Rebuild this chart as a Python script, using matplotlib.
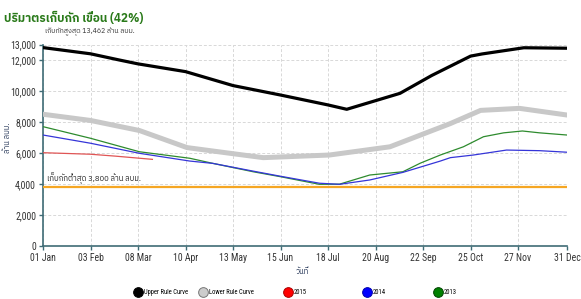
import matplotlib
matplotlib.use('Agg')
import matplotlib.pyplot as plt
from matplotlib import font_manager, ft2font
from matplotlib.lines import Line2D
import numpy as np

# ---- datos (día del año, millones m3) ----
upper_days = [0, 33, 53, 66, 99, 132, 165, 198, 211, 234, 248, 270, 297, 305, 334, 364]
upper_vals = [12800, 12400, 12000, 11750, 11250, 10350, 9740, 9100, 8820, 9460, 9850, 11000, 12250, 12390, 12790, 12760]

lower_days = [0, 33, 67, 100, 130, 153, 199, 241, 283, 304, 331, 364]
lower_vals = [8500, 8100, 7450, 6350, 5980, 5700, 5870, 6400, 7900, 8750, 8880, 8450]

y2013_days = [0, 33, 67, 102, 118, 146, 165, 192, 206, 227, 250, 262, 276, 292, 306, 320, 333, 345, 364]
y2013_vals = [7700, 6950, 6080, 5660, 5330, 4790, 4470, 3980, 3990, 4580, 4790, 5340, 5870, 6400, 7050, 7300, 7420, 7300, 7160]

y2014_days = [0, 33, 67, 102, 118, 146, 165, 192, 206, 227, 250, 276, 283, 299, 322, 345, 364]
y2014_vals = [7160, 6630, 5980, 5480, 5330, 4830, 4500, 4050, 3980, 4260, 4750, 5480, 5700, 5870, 6190, 6150, 6050]

y2015_days = [0, 33, 50, 76]
y2015_vals = [6020, 5920, 5800, 5590]

min_storage = 3800
tick_days = [0, 33, 66, 99, 132, 165, 198, 231, 264, 297, 330, 364]
tick_labels = ['01 Jan', '03 Feb', '08 Mar', '10 Apr', '13 May', '15 Jun', '18 Jul',
               '20 Aug', '22 Sep', '25 Oct', '27 Nov', '31 Dec']
y_ticks = [0, 2000, 4000, 6000, 8000, 10000, 12000, 13000]


def buscar_fuente_thai():
    # busca una fuente instalada que tenga glifos tailandeses
    preferidas = []
    otras = []
    for f in font_manager.fontManager.ttflist:
        try:
            cmap = ft2font.FT2Font(f.fname).get_charmap()
        except Exception:
            continue
        if 0x0E1B in cmap and 0x0E40 in cmap:
            if 'Thai' in f.name:
                preferidas.append(f.name)
            else:
                otras.append(f.name)
    lista = preferidas + otras
    return lista[0] if lista else 'DejaVu Sans'


def fuente_estrecha():
    for nombre in ['Liberation Sans Narrow', 'Roboto Condensed', 'Open Sans Condensed']:
        try:
            font_manager.findfont(nombre, fallback_to_default=False)
            return nombre
        except Exception:
            pass
    return 'Liberation Sans'


thai = buscar_fuente_thai()
estrecha = fuente_estrecha()
plt.rcParams['font.family'] = [thai, 'DejaVu Sans']

W, H = 581, 299
fig = plt.figure(figsize=(W / 100, H / 100), dpi=100)
ax = fig.add_axes([43 / W, 1 - 246 / H, (567 - 43) / W, (246 - 44.5) / H])

ax.plot(upper_days, upper_vals, color='black', lw=2.3, solid_capstyle='round', zorder=5)
ax.plot(lower_days, lower_vals, color='#c8c8c8', lw=3.6, solid_capstyle='round', zorder=4)
ax.plot(y2013_days, y2013_vals, color='#2e8b2e', lw=0.9, zorder=6)
ax.plot(y2014_days, y2014_vals, color='#3535d8', lw=0.9, zorder=6)
ax.plot(y2015_days, y2015_vals, color='#e05555', lw=0.9, zorder=6)
ax.axhline(min_storage, color='#f5a623', lw=1.6, zorder=3)

ax.set_xlim(0, 364)
ax.set_ylim(0, 13000)
ax.set_xticks(tick_days)
ax.set_xticklabels(tick_labels, family=[estrecha, thai])
ax.set_yticks(y_ticks)
ax.set_yticklabels([f'{v:,}' for v in y_ticks], family=[estrecha, thai])
ax.grid(True, color='#d8d8d8', ls=(0, (3, 2)), lw=0.7)
ax.set_axisbelow(True)

spine_c = '#3f6c76'
for s in ['top', 'right']:
    ax.spines[s].set_visible(False)
for s in ['left', 'bottom']:
    ax.spines[s].set_color(spine_c)
    ax.spines[s].set_linewidth(1.2)
ax.tick_params(axis='both', colors=spine_c, length=3, width=1.0, labelsize=7,
               labelcolor='#333333', pad=2)

ax.text(3, min_storage + 150, 'เก็บกักต่ำสุด 3,800 ล้าน ลบม.', fontsize=5.5, color='#222222',
        va='bottom', ha='left')

fig.text(4 / W, 1 - 18 / H, 'ปริมาตรเก็บกัก เขื่อน (42%)', fontsize=8.5, color='#2a7a1a',
         va='center', ha='left', fontweight='bold')
fig.text(45 / W, 1 - 32 / H, 'เก็บกักสูงสุด 13,462 ล้าน ลบม.', fontsize=5, color='#333333',
         va='center', ha='left')
fig.text(8 / W, 1 - 138 / H, 'ล้าน ลบม.', fontsize=5.5, color='#223355', rotation=90,
         va='center', ha='center')
fig.text(302 / W, 1 - 272 / H, 'วันที่', fontsize=5.5, color='#223355', va='center', ha='center')

# leyenda manual en la parte inferior
items = [('Upper Rule Curve', 'black', 'black', 134),
         ('Lower Rule Curve', '#cccccc', '#777777', 199),
         ('2015', 'red', '#aa0000', 284),
         ('2014', 'blue', '#0000aa', 363),
         ('2013', 'green', '#004400', 434)]
for lab, fc, ec, xp in items:
    h = Line2D([], [], marker='o', ls='', markerfacecolor=fc, markeredgecolor=ec,
               markersize=7, markeredgewidth=0.7)
    fig.legend(handles=[h], labels=[lab], loc='center left', bbox_to_anchor=(xp / W, 1 - 293 / H),
               frameon=False, prop={'family': [estrecha, thai], 'size': 4.8},
               handletextpad=0.4, handlelength=1.1, borderpad=0, borderaxespad=0)

fig.savefig('out.png', dpi=100)
